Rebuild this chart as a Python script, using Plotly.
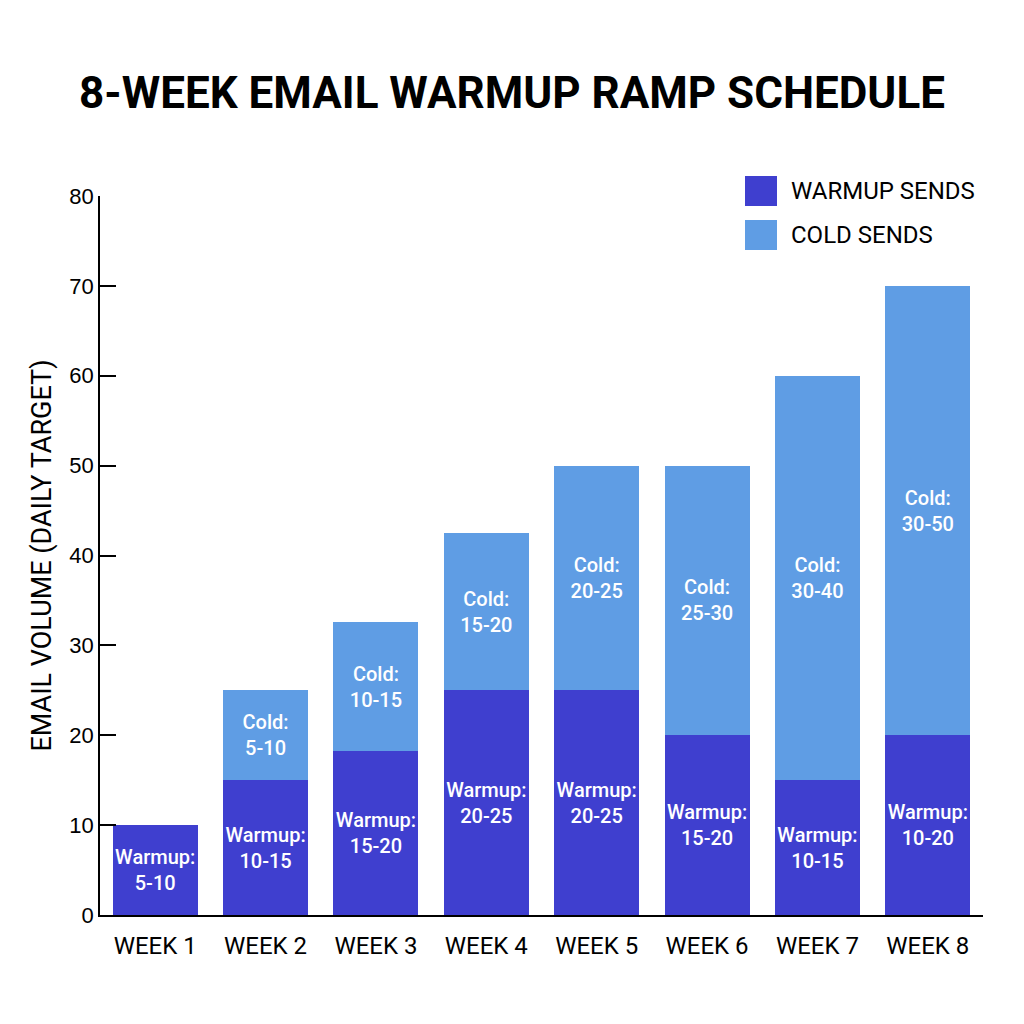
import plotly.graph_objects as go

weeks = ["WEEK 1", "WEEK 2", "WEEK 3", "WEEK 4", "WEEK 5", "WEEK 6", "WEEK 7", "WEEK 8"]
warmup = [10, 15, 18.2, 25, 25, 20, 15, 20]
cold = [0, 10, 14.4, 17.5, 25, 30, 45, 50]
warmup_labels = ["Warmup:<br>5-10", "Warmup:<br>10-15", "Warmup:<br>15-20", "Warmup:<br>20-25",
                 "Warmup:<br>20-25", "Warmup:<br>15-20", "Warmup:<br>10-15", "Warmup:<br>10-20"]
cold_labels = ["", "Cold:<br>5-10", "Cold:<br>10-15", "Cold:<br>15-20",
               "Cold:<br>20-25", "Cold:<br>25-30", "Cold:<br>30-40", "Cold:<br>30-50"]
y_ticks = [0, 10, 20, 30, 40, 50, 60, 70, 80]

WARM = "#3F3FCF"
COLD = "#5F9DE4"
FONT = "Roboto"

fig = go.Figure()
fig.add_bar(x=weeks, y=warmup, name="WARMUP SENDS", marker=dict(color=WARM, line=dict(width=0)),
            text=warmup_labels, textposition="inside", insidetextanchor="middle", textangle=0,
            textfont=dict(color="white", size=20, family=FONT, weight=500), constraintext="none",
            hoverinfo="skip")
fig.add_bar(x=weeks, y=cold, name="COLD SENDS", marker=dict(color=COLD, line=dict(width=0)),
            text=cold_labels, textposition="inside", insidetextanchor="middle", textangle=0,
            textfont=dict(color="white", size=20, family=FONT, weight=500), constraintext="none",
            hoverinfo="skip")

fig.update_layout(
    barmode="stack", bargap=0.23,
    width=1024, height=1024,
    margin=dict(l=100, r=41, t=196, b=109),
    paper_bgcolor="white", plot_bgcolor="white",
    showlegend=False,
    font=dict(family=FONT, color="black"),
    title=dict(text="<b>8-WEEK EMAIL WARMUP RAMP SCHEDULE</b>", x=0.5, xanchor="center",
               y=1 - 93 / 1024, yanchor="middle", font=dict(size=44, family=FONT, color="black")),
    xaxis=dict(showline=True, linecolor="black", linewidth=1.5, ticks="", showgrid=False,
               tickfont=dict(size=24, family=FONT, color="black"), range=[-0.5, 7.5],
               ticklabelstandoff=8),
    yaxis=dict(range=[0, 80], tickvals=y_ticks, showline=True, linecolor="black", linewidth=1.5,
               ticks="inside", ticklen=16, tickcolor="black", tickwidth=1.5, showgrid=False,
               zeroline=False, tickfont=dict(size=22, family="Liberation Sans", color="black"),
               title=dict(text="EMAIL VOLUME (DAILY TARGET)", font=dict(size=27, family=FONT, color="black"),
                          standoff=10)),
)

# custom legend
legend_items = [("WARMUP SENDS", WARM, 191), ("COLD SENDS", COLD, 235)]
for label, color, yc in legend_items:
    fig.add_shape(type="rect", xref="paper", yref="paper",
                  x0=(745 - 100) / 883, x1=(777 - 100) / 883,
                  y0=(915 - (yc + 15)) / 719, y1=(915 - (yc - 15)) / 719,
                  fillcolor=color, line=dict(width=0))
    fig.add_annotation(xref="paper", yref="paper", x=(789 - 100) / 883, y=(915 - yc) / 719,
                       text=label, showarrow=False, xanchor="left", yanchor="middle",
                       font=dict(size=24, family=FONT, color="black"))

fig.write_html("out.html")
